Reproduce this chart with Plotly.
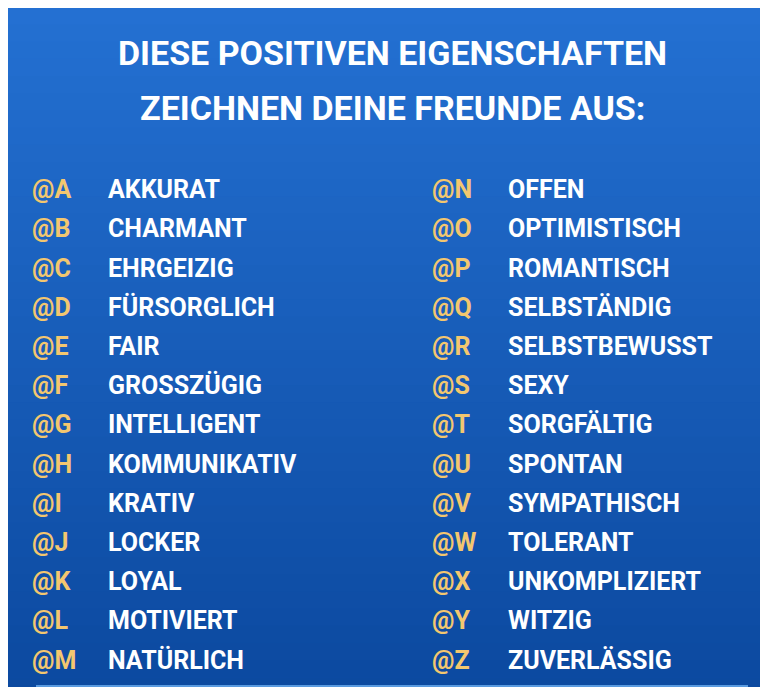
import plotly.graph_objects as go

title_lines = ["DIESE POSITIVEN EIGENSCHAFTEN", "ZEICHNEN DEINE FREUNDE AUS:"]
letters_left = ["@A","@B","@C","@D","@E","@F","@G","@H","@I","@J","@K","@L","@M"]
words_left = ["AKKURAT","CHARMANT","EHRGEIZIG","FÜRSORGLICH","FAIR","GROSSZÜGIG","INTELLIGENT",
              "KOMMUNIKATIV","KRATIV","LOCKER","LOYAL","MOTIVIERT","NATÜRLICH"]
letters_right = ["@N","@O","@P","@Q","@R","@S","@T","@U","@V","@W","@X","@Y","@Z"]
words_right = ["OFFEN","OPTIMISTISCH","ROMANTISCH","SELBSTÄNDIG","SELBSTBEWUSST","SEXY","SORGFÄLTIG",
               "SPONTAN","SYMPATHISCH","TOLERANT","UNKOMPLIZIERT","WITZIG","ZUVERLÄSSIG"]

FONT = "Roboto, sans-serif"
GOLD = "#f3c76f"
rows = list(range(len(letters_left)))

fig = go.Figure()
# background gradient via stacked bands (paper coords)
N = 40
c0, c1 = (0x24, 0x70, 0xd2), (0x0c, 0x4a, 0xa0)
for k in range(N):
    t = k / (N - 1)
    c = tuple(int(a + (b - a) * t) for a, b in zip(c0, c1))
    fig.add_shape(type="rect", xref="paper", yref="paper", x0=0, x1=1,
                  y0=1 - (k + 1) / N, y1=1 - k / N + 0.001, layer="below",
                  line_width=0, fillcolor="rgb(%d,%d,%d)" % c)

def col(x, texts, color):
    fig.add_trace(go.Scatter(x=[x]*len(texts), y=rows, mode="text", text=texts,
                             textposition="middle right",
                             textfont=dict(family=FONT, size=25, color=color, weight="bold"),
                             hoverinfo="skip", showlegend=False))

col(24, letters_left, GOLD)
col(100, words_left, "white")
col(424, letters_right, GOLD)
col(500, words_right, "white")

for i, t in enumerate(title_lines):
    fig.add_annotation(x=384, y=-3.55 + i * 1.42, text=f"<b>{t}</b>", showarrow=False,
                       font=dict(family=FONT, size=34, color="white"), xanchor="center")

fig.add_shape(type="line", x0=28, x1=740, y0=12.6, y1=12.6,
              line=dict(color="#5a9be0", width=2))

fig.update_xaxes(range=[0, 768], visible=False)
fig.update_yaxes(range=[12.83, -4.69], visible=False)
fig.update_layout(width=768, height=687, margin=dict(l=0, r=0, t=0, b=0),
                  paper_bgcolor="#1a5cb8", plot_bgcolor="rgba(0,0,0,0)", showlegend=False)
fig.write_html("out.html", config={"displayModeBar": False})
